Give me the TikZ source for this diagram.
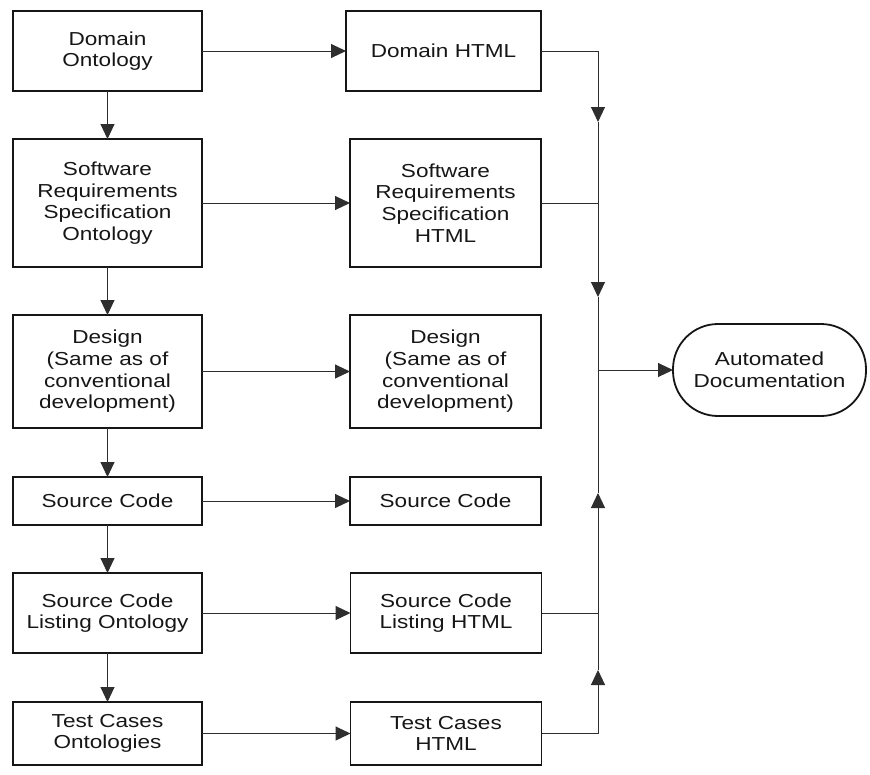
\documentclass[tikz,border=0pt]{standalone}
\usepackage{fontspec}
\setmainfont{Liberation Sans}[FakeStretch=1.2]
\usetikzlibrary{arrows.meta}
\definecolor{ink}{HTML}{161616}
\definecolor{wire}{HTML}{2E2E2E}
\tikzset{
  box/.style={draw=ink, line width=1.8pt, rectangle, align=center, inner sep=0pt, outer sep=0pt,
    text=ink, font=\fontsize{18.8}{21.7}\selectfont},
  lbox/.style={box, minimum width=189pt},
  rbox/.style={box, minimum width=191pt},
  oval/.style={box, rounded corners=45pt, minimum width=193pt, minimum height=92pt},
  conn/.style={draw=wire, line width=1pt},
  arr/.style={conn, -{Triangle[length=15pt,width=14pt]}},
}
\begin{document}
\begin{tikzpicture}[x=1pt,y=-1pt]
\useasboundingbox (0,0) rectangle (870,774);
% left column
\node[lbox, minimum height=80pt]  (l1) at (107.5,51)  {Domain\\Ontology};
\node[lbox, minimum height=128pt] (l2) at (107.5,203) {Software\\Requirements\\Specification\\Ontology};
\node[lbox, minimum height=113pt] (l3) at (107.5,371.5) {Design\\(Same as of\\conventional\\development)};
\node[lbox, minimum height=48pt]  (l4) at (107.5,501) {Source Code};
\node[lbox, minimum height=80pt]  (l5) at (107.5,613) {Source Code\\Listing Ontology};
\node[lbox, minimum height=63pt]  (l6) at (107.5,733.5) {Test Cases\\Ontologies};
% right column
\node[rbox, minimum width=195pt, minimum height=80pt] (r1) at (443.5,51) {Domain HTML};
\node[rbox, minimum height=128pt] (r2) at (445.5,203) {Software\\Requirements\\Specification\\HTML};
\node[rbox, minimum height=113pt] (r3) at (445.5,371.5) {Design\\(Same as of\\conventional\\development)};
\node[rbox, minimum height=48pt]  (r4) at (445.5,501) {Source Code};
\node[rbox, minimum height=80pt]  (r5) at (446,613) {Source Code\\Listing HTML};
\node[rbox, minimum height=63pt]  (r6) at (446,733.5) {Test Cases\\HTML};
% output
\node[oval] (ad) at (769.5,370) {Automated\\Documentation};
% vertical flow
\draw[arr] (l1) -- (l2);
\draw[arr] (l2) -- (l3);
\draw[arr] (l3) -- (l4);
\draw[arr] (l4) -- (l5);
\draw[arr] (l5) -- (l6);
% horizontal flow
\draw[arr] (l1) -- (r1);
\draw[arr] (l2) -- (r2);
\draw[arr] (l3) -- (r3);
\draw[arr] (l4) -- (r4);
\draw[arr] (l5) -- (r5);
\draw[arr] (l6) -- (r6);
% bus
\coordinate (b1) at (598,51);
\coordinate (b2) at (598,203);
\coordinate (bj) at (598,370);
\coordinate (b5) at (598,613);
\coordinate (b6) at (598,733.5);
\coordinate (t1) at (598,122);
\coordinate (t2) at (598,297);
\coordinate (t3) at (598,493);
\coordinate (t4) at (598,670);
\draw[conn] (r1.east) -- (b1);
\draw[arr] (b1) -- (t1);
\draw[conn] (t1) -- (b2);
\draw[conn] (r2.east) -- (b2);
\draw[arr] (b2) -- (t2);
\draw[conn] (t2) -- (bj);
\draw[conn] (r5.east) -- (b5);
\draw[conn] (r6.east) -- (b6);
\draw[arr] (b6) -- (t4);
\draw[conn] (t4) -- (b5);
\draw[arr] (b5) -- (t3);
\draw[conn] (t3) -- (bj);
\draw[arr] (bj) -- (ad.west);
\end{tikzpicture}
\end{document}
